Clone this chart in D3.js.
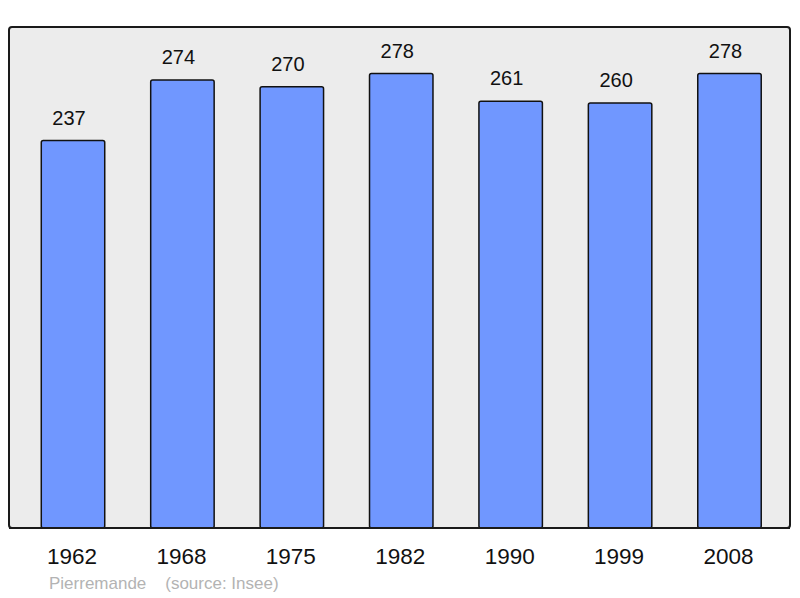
<html><head>
<script src="https://d3js.org/d3.v7.min.js"></script>
<style>
  body { margin: 0; background: #fff; }
  text { font-family: "Liberation Sans", Arial, sans-serif; }
</style>
</head>
<body>
<svg id="chart" width="800" height="598"></svg>
<script>
// data
const years = ["1962", "1968", "1975", "1982", "1990", "1999", "2008"];
const population = [237, 274, 270, 278, 261, 260, 278];
const credit = "Pierremande    (source: Insee)";

const svg = d3.select("#chart");

// plot frame
const frame = { left: 9, top: 27, right: 790, bottom: 528 };

const x = d3.scaleBand()
            .domain(years)
            .range([18.3, 784.2])
            .paddingInner(0.42)
            .paddingOuter(0.21);

const y = d3.scaleLinear()
            .domain([0, 306.5])
            .range([frame.bottom, frame.top]);

svg.append("rect")
   .attr("x", frame.left).attr("y", frame.top)
   .attr("width", frame.right - frame.left)
   .attr("height", frame.bottom - frame.top)
   .attr("rx", 3)
   .attr("fill", "#ececec")
   .attr("stroke", "#1a1a1a")
   .attr("stroke-width", 2);

const data = years.map((yr, i) => ({ year: yr, value: population[i] }));

svg.selectAll("rect.bar").data(data)
   .join("rect")
   .attr("class", "bar")
   .attr("x", d => x(d.year))
   .attr("y", d => y(d.value))
   .attr("width", x.bandwidth())
   .attr("height", d => y(0) - y(d.value))
   .attr("rx", 2)
   .attr("fill", "#7097ff")
   .attr("stroke", "#111")
   .attr("stroke-width", 1.5);

// redraw the frame's bottom edge over the bars
svg.append("line")
   .attr("x1", frame.left).attr("x2", frame.right)
   .attr("y1", frame.bottom).attr("y2", frame.bottom)
   .attr("stroke", "#1a1a1a").attr("stroke-width", 2);

// value labels sit a little left of the bar centre
svg.selectAll("text.value").data(data)
   .join("text")
   .attr("class", "value")
   .attr("x", d => x(d.year) + x.bandwidth() / 2 - 4)
   .attr("y", d => y(d.value) - 16)
   .attr("text-anchor", "middle")
   .attr("font-size", 20)
   .attr("fill", "#111")
   .text(d => d.value);

svg.selectAll("text.year").data(data)
   .join("text")
   .attr("class", "year")
   .attr("x", d => x(d.year) + x.bandwidth() / 2 - 1)
   .attr("y", 564)
   .attr("text-anchor", "middle")
   .attr("font-size", 22.5)
   .attr("fill", "#111")
   .text(d => d.year);

svg.append("text")
   .attr("x", 49).attr("y", 589)
   .attr("font-size", 17)
   .attr("fill", "#b3b3b3")
   .attr("xml:space", "preserve")
   .style("white-space", "pre")
   .text(credit);
</script>
</body>
</html>
